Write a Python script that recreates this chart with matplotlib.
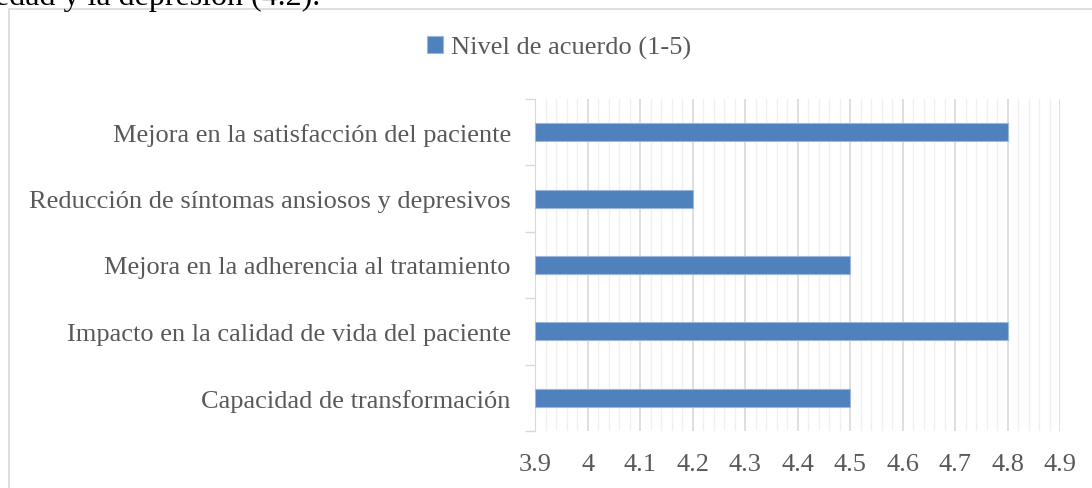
import matplotlib.pyplot as plt
from matplotlib.patches import Rectangle
from matplotlib.ticker import MultipleLocator
import numpy as np

# datos
categorias = ['Capacidad de transformación',
              'Impacto en la calidad de vida del paciente',
              'Mejora en la adherencia al tratamiento',
              'Reducción de síntomas ansiosos y depresivos',
              'Mejora en la satisfacción del paciente']
valores = [4.5, 4.8, 4.5, 4.2, 4.8]
serie = 'Nivel de acuerdo (1-5)'
xticks = [3.9, 4, 4.1, 4.2, 4.3, 4.4, 4.5, 4.6, 4.7, 4.8, 4.9]
xticklabels = ['3.9', '4', '4.1', '4.2', '4.3', '4.4', '4.5', '4.6', '4.7', '4.8', '4.9']

plt.rcParams['font.family'] = ['Liberation Serif', 'DejaVu Serif']
gris = '#595959'
azul = '#4F81BD'

fig = plt.figure(figsize=(10.92, 4.89), dpi=100)
ax = fig.add_axes([0.490, 0.1166, 0.481, 0.6789])

y = np.arange(len(categorias))
base = xticks[0]
ax.barh(y, [v - base for v in valores], left=base, height=0.27,
        color=azul, edgecolor='#9DB6DB', linewidth=0.8, zorder=3, label=serie)

ax.set_xlim(xticks[0], xticks[-1])
ax.set_ylim(-0.5, len(categorias) - 0.5)
ax.set_xticks(xticks)
ax.set_xticklabels(xticklabels, fontsize=19, color=gris)
ax.xaxis.set_minor_locator(MultipleLocator(0.02))
ax.grid(axis='x', which='major', color='#D9D9D9', linewidth=1.2, zorder=0)
ax.grid(axis='x', which='minor', color='#F0F0F0', linewidth=1.0, zorder=0)
ax.tick_params(axis='x', which='both', length=0, pad=16)

ax.set_yticks(y)
ax.set_yticklabels(categorias, fontsize=19, color=gris)
ax.tick_params(axis='y', which='major', length=0, pad=17.5)
ax.set_yticks(np.arange(-0.5, len(categorias), 1), minor=True)
ax.tick_params(axis='y', which='minor', length=7, color='#D9D9D9', width=1)

for s in ['top', 'right', 'bottom']:
    ax.spines[s].set_visible(False)
ax.spines['left'].set_color('#D9D9D9')

leg = fig.legend(loc='center', bbox_to_anchor=(0.512, 0.900), frameon=False,
                 fontsize=19, handlelength=0.6, handleheight=0.6, handletextpad=0.3)
for t in leg.get_texts():
    t.set_color(gris)

# borde del gráfico
fig.patches.append(Rectangle((0.0085, -0.1), 1.2, 1.079, transform=fig.transFigure,
                             fill=False, edgecolor='#D9D9D9', linewidth=1.2))
# texto cortado arriba
fig.text(-0.005, 0.99, 'edad y la depresión (4.2).', fontsize=23, color='black',
         va='baseline', ha='left')

fig.savefig('out.png', dpi=100)
